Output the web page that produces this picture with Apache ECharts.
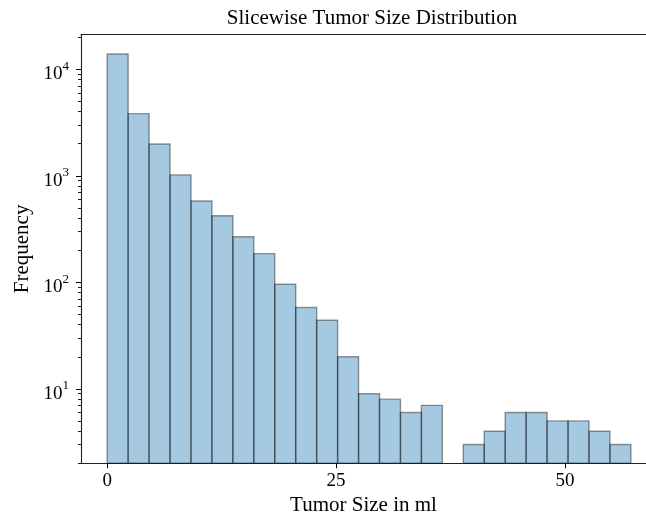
<!DOCTYPE html>
<html>
<head>
<meta charset="utf-8">
<script src="https://cdn.jsdelivr.net/npm/echarts@6/dist/echarts.min.js"></script>
<style>
html, body { margin: 0; padding: 0; background: #fff; }
#chart { width: 646px; height: 516px; }
</style>
</head>
<body>
<div id="chart"></div>
<script>
// ---- data ----
const binStart = 0;
const binWidth = 2.288;
const counts = [13900, 3830, 1990, 1020, 580, 422, 268, 186, 96, 58, 44, 20, 9, 8, 6, 7, 0, 3, 4, 6, 6, 5, 5, 4, 3];
const xTicks = [0, 25, 50];
const yTicks = [10, 100, 1000, 10000];
const yMin = 2;
const yMax = 21200;
const xMin = -2.86;
const xMax = 58.85;

// minor log ticks (2..9 x 10^k)
const yMinorTicks = [];
for (let k = 0; k <= 4; k++) {
  for (let m = 2; m <= 9; m++) {
    const v = m * Math.pow(10, k);
    if (v >= yMin && v <= yMax) yMinorTicks.push(v);
  }
}

const barData = counts.map((c, i) => [binStart + i * binWidth, binStart + (i + 1) * binWidth, c]);

const FONT = 'Liberation Serif';

const chart = echarts.init(document.getElementById('chart'), null, { renderer: 'canvas' });
chart.setOption({
  animation: false,
  backgroundColor: '#ffffff',
  title: {
    text: 'Slicewise Tumor Size Distribution',
    left: 367,
    top: 3,
    textAlign: 'center',
    textStyle: { fontFamily: FONT, fontSize: 21, fontWeight: 'normal', color: '#000' }
  },
  grid: {
    left: 81, right: 0, top: 34.5, bottom: 52.7,
    show: false,
    outerBoundsMode: 'none',
    containLabel: false
  },
  xAxis: [{
    type: 'value',
    min: xMin, max: xMax,
    name: 'Tumor Size in ml',
    nameLocation: 'middle',
    nameGap: 25,
    nameTextStyle: { fontFamily: FONT, fontSize: 21, color: '#000' },
    axisLine: { show: true, onZero: false, lineStyle: { color: '#222', width: 1.1 } },
    axisTick: { show: true, customValues: xTicks, length: 5, lineStyle: { color: '#000', width: 1 } },
    axisLabel: { customValues: xTicks, margin: 8, fontFamily: FONT, fontSize: 19, color: '#000' },
    splitLine: { show: false }
  }, {
    type: 'value',
    position: 'top',
    min: xMin, max: xMax,
    axisLine: { show: true, onZero: false, lineStyle: { color: '#222', width: 1.1 } },
    axisTick: { show: false },
    axisLabel: { show: false },
    splitLine: { show: false }
  }],
  yAxis: [{
    type: 'log',
    logBase: 10,
    min: yMin, max: yMax,
    name: 'Frequency',
    nameLocation: 'middle',
    nameGap: 45,
    nameRotate: 90,
    nameTextStyle: { fontFamily: FONT, fontSize: 21, color: '#000' },
    axisLine: { show: true, onZero: false, lineStyle: { color: '#222', width: 1.1 } },
    axisTick: { show: true, customValues: yTicks, length: 5, lineStyle: { color: '#000', width: 1 } },
    axisLabel: {
      customValues: yTicks,
      margin: 12,
      padding: [5, 0, 0, 0],
      formatter: function (v) {
        return '{b|10}{s|' + Math.round(Math.log10(v)) + '}';
      },
      rich: {
        b: { fontFamily: FONT, fontSize: 19, color: '#000', lineHeight: 24, verticalAlign: 'bottom' },
        s: { fontFamily: FONT, fontSize: 13, color: '#000', lineHeight: 12, verticalAlign: 'top' }
      }
    },
    splitLine: { show: false }
  }, {
    type: 'log',
    logBase: 10,
    min: yMin, max: yMax,
    position: 'left',
    axisLine: { show: false, onZero: false },
    axisTick: { show: true, customValues: yMinorTicks, length: 3, lineStyle: { color: '#000', width: 0.9 } },
    axisLabel: { show: false },
    splitLine: { show: false }
  }],
  series: [{
    type: 'custom',
    name: 'Tumor size',
    xAxisIndex: 0,
    yAxisIndex: 0,
    clip: true,
    data: barData,
    encode: { x: [0, 1], y: 2 },
    renderItem: function (params, api) {
      const c = api.value(2);
      if (!(c > 0)) return null;
      const p0 = api.coord([api.value(0), c]);
      const p1 = api.coord([api.value(1), yMin]);
      return {
        type: 'rect',
        shape: { x: p0[0], y: p0[1], width: p1[0] - p0[0], height: p1[1] - p0[1] },
        style: { fill: 'rgba(31,119,180,0.4)', stroke: 'rgba(0,0,0,0.4)', lineWidth: 1.4 }
      };
    }
  }]
});
</script>
</body>
</html>
